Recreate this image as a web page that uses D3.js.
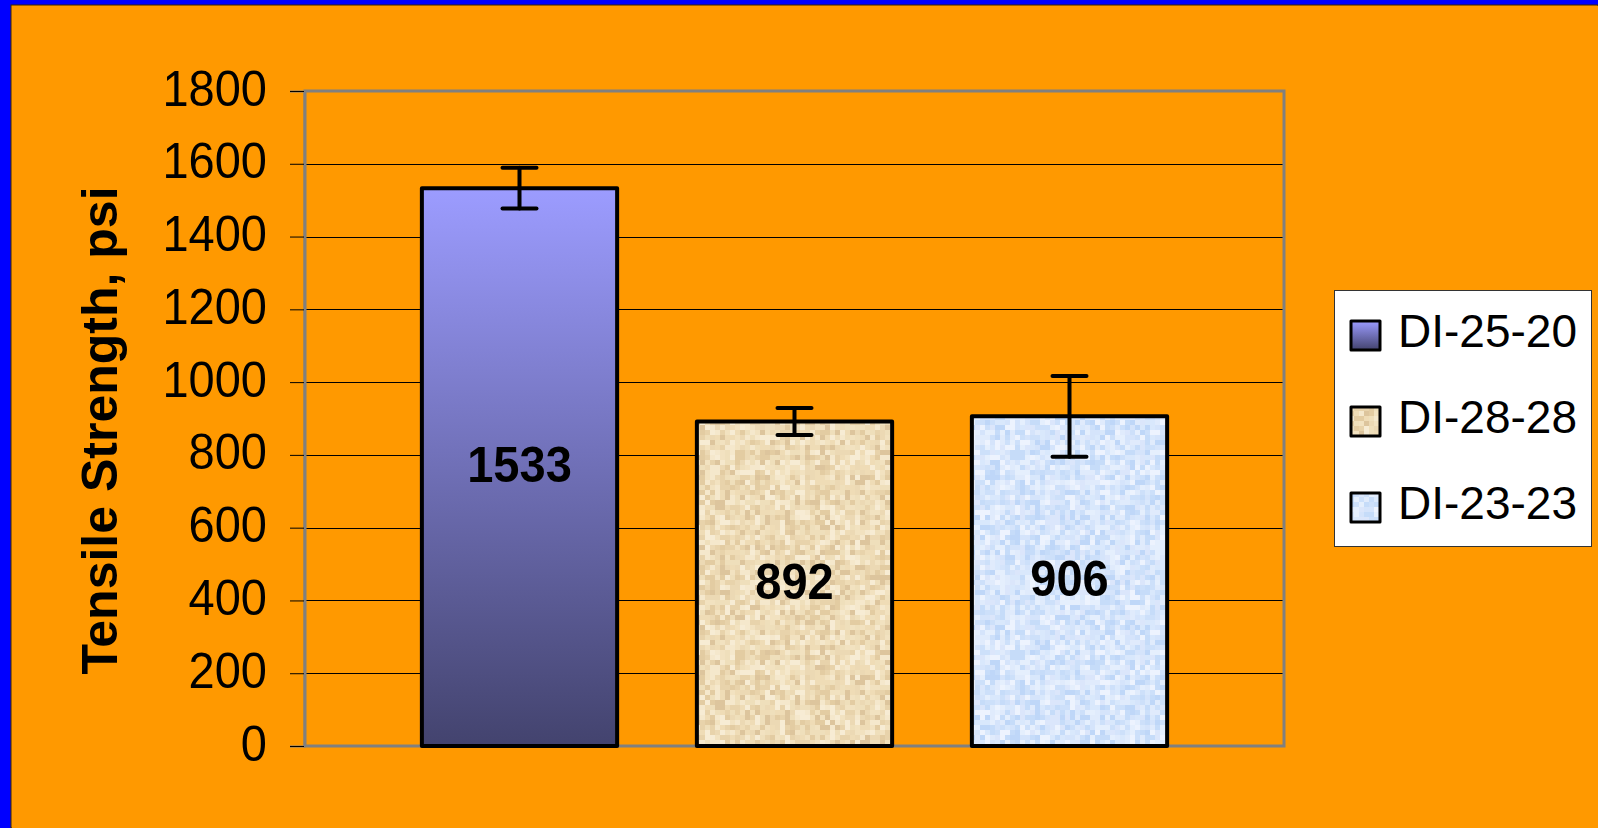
<!DOCTYPE html>
<html>
<head>
<meta charset="utf-8">
<script src="https://cdn.jsdelivr.net/npm/d3@7"></script>
<style>
  html, body { margin: 0; padding: 0; background: #0000ff; }
  svg { display: block; }
  text { font-family: "Liberation Sans", Arial, Helvetica, sans-serif; fill: #000; }
</style>
</head>
<body>
<svg id="chart" width="1598" height="828"></svg>
<script>
// Tensile strength of three mixes, with error bars (± one deviation)
const series = ["DI-25-20", "DI-28-28", "DI-23-23"];
const strength = [1533, 892, 906];
const errPlus = [56, 37, 111];
const errMinus = [56, 37, 111];
const yTicks = [0, 200, 400, 600, 800, 1000, 1200, 1400, 1600, 1800];
const yTitle = "Tensile Strength, psi";

const W = 1598, H = 828;
const plot = { left: 305, right: 1284, top: 91, bottom: 746 };
const stretch = 1.08; // slightly tall numerals

const svg = d3.select("#chart");
const defs = svg.append("defs");

// Page frame: blue margin on the left and top, orange sheet
svg.append("rect").attr("x", 0).attr("y", 0).attr("width", W).attr("height", H).attr("fill", "#0000ff");
svg.append("rect").attr("x", 11).attr("y", 5).attr("width", W - 11).attr("height", H - 5)
  .attr("fill", "#ff9900").attr("stroke", "#3a2600").attr("stroke-width", 1);
svg.append("rect").attr("x", 12).attr("y", 6).attr("width", W - 12).attr("height", H - 6).attr("fill", "#ff9900");

// Fills: a vertical gradient and two speckled paper textures
const grad = defs.append("linearGradient").attr("id", "fill0")
  .attr("x1", 0).attr("y1", 0).attr("x2", 0).attr("y2", 1);
grad.append("stop").attr("offset", "0%").attr("stop-color", "#9c9cff");
grad.append("stop").attr("offset", "100%").attr("stop-color", "#43436e");

// integer hash used to scatter the texture cells
function cellHash(i, j, salt) {
  let h = (i * 374761393 + j * 668265263 + salt * 2246822519) | 0;
  h = Math.imul(h ^ (h >>> 13), 1274126177);
  h = h ^ (h >>> 16);
  return (h >>> 0);
}
function speckle(id, palette, cell, n, salt) {
  const p = defs.append("pattern").attr("id", id)
    .attr("patternUnits", "userSpaceOnUse")
    .attr("width", cell * n).attr("height", cell * n);
  p.append("rect").attr("width", cell * n).attr("height", cell * n).attr("fill", palette[0]);
  for (let i = 0; i < n; i++) {
    for (let j = 0; j < n; j++) {
      const k = cellHash(i, j, salt) % palette.length;
      if (k === 0) continue;
      p.append("rect").attr("x", i * cell).attr("y", j * cell)
        .attr("width", cell).attr("height", cell).attr("fill", palette[k]);
    }
  }
}
speckle("fill1", ["#efdfbb", "#e8d3ab", "#e3cca2", "#f5e8cc", "#ecd9b4", "#ddc59d", "#f7ecd4", "#efdcb6", "#f2e2c0"], 5, 40, 1);
speckle("fill2", ["#d9e8fc", "#cde0fa", "#e5effd", "#c6dcf9", "#d5e4fb", "#edf3fe", "#bfd7f8", "#e0ebfc", "#dbe6fb"], 5, 40, 2);
const fills = ["url(#fill0)", "url(#fill1)", "url(#fill2)"];

// Scales
const y = d3.scaleLinear().domain([0, 1800]).range([plot.bottom, plot.top]);
const x = d3.scaleBand().domain(series).range([plot.left, plot.right])
  .paddingInner(0.29).paddingOuter(0.425);

// Horizontal gridlines
svg.append("g").selectAll("line").data(yTicks.filter(d => d > 0)).join("line")
  .attr("x1", plot.left).attr("x2", plot.right)
  .attr("y1", d => Math.round(y(d)) + 0.5).attr("y2", d => Math.round(y(d)) + 0.5)
  .attr("stroke", "#000").attr("stroke-width", 1);

// Plot area border
svg.append("rect")
  .attr("x", plot.left).attr("y", plot.top)
  .attr("width", plot.right - plot.left).attr("height", plot.bottom - plot.top)
  .attr("fill", "none").attr("stroke", "#808080").attr("stroke-width", 3);

// Y axis: tick marks and labels
const yAxis = d3.axisLeft(y).tickValues(yTicks).tickSize(14).tickPadding(24).tickFormat(d3.format("d"));
const ag = svg.append("g").attr("transform", `translate(${plot.left - 1},0)`).call(yAxis);
ag.select(".domain").attr("stroke", "#808080").attr("stroke-width", 2);
ag.selectAll(".tick line").attr("stroke", "#000").attr("stroke-width", 1);
ag.selectAll(".tick text")
  .attr("font-size", 47).attr("font-family", "Liberation Sans, Arial, sans-serif")
  .attr("fill", "#000").attr("x", 0).attr("dy", null).attr("y", 0)
  .attr("transform", `translate(-37,14) scale(1,${stretch})`);

// Axis title
svg.append("text")
  .attr("transform", `translate(117,${(plot.top + plot.bottom) / 2 + 12}) rotate(-90)`)
  .attr("text-anchor", "middle")
  .attr("font-size", 50).attr("font-weight", "bold")
  .text(yTitle);

// Bars
svg.append("g").selectAll("rect").data(series).join("rect")
  .attr("x", d => x(d)).attr("width", x.bandwidth())
  .attr("y", (d, i) => y(strength[i]))
  .attr("height", (d, i) => y(0) - y(strength[i]))
  .attr("fill", (d, i) => fills[i])
  .attr("stroke", "#000").attr("stroke-width", 4).attr("stroke-linejoin", "round");

// Error bars
const eg = svg.append("g").attr("stroke", "#000").attr("stroke-width", 4).attr("stroke-linecap", "round");
series.forEach((s, i) => {
  const cx = x(s) + x.bandwidth() / 2;
  const hi = y(strength[i] + errPlus[i]), lo = y(strength[i] - errMinus[i]);
  eg.append("line").attr("x1", cx).attr("x2", cx).attr("y1", hi).attr("y2", lo);
  eg.append("line").attr("x1", cx - 17).attr("x2", cx + 17).attr("y1", hi).attr("y2", hi);
  eg.append("line").attr("x1", cx - 17).attr("x2", cx + 17).attr("y1", lo).attr("y2", lo);
});

// Value labels centred in each bar
svg.append("g").selectAll("text").data(series).join("text")
  .attr("transform", (d, i) =>
    `translate(${x(d) + x.bandwidth() / 2},${(y(strength[i]) + y(0)) / 2 + 15}) scale(1,${stretch})`)
  .attr("text-anchor", "middle")
  .attr("font-size", 47).attr("font-weight", "bold")
  .text((d, i) => d3.format("d")(strength[i]));

// Legend
const lg = svg.append("g").attr("transform", "translate(1334,290)");
lg.append("rect").attr("x", 0.5).attr("y", 0.5).attr("width", 257).attr("height", 256)
  .attr("fill", "#fff").attr("stroke", "#333").attr("stroke-width", 1);
const items = lg.selectAll("g.item").data(series).join("g").attr("class", "item")
  .attr("transform", (d, i) => `translate(0,${30 + i * 86})`);
items.append("rect").attr("x", 17).attr("y", 1).attr("width", 29).attr("height", 29)
  .attr("fill", (d, i) => fills[i])
  .attr("stroke", "#000").attr("stroke-width", 3).attr("stroke-linejoin", "round");
items.append("text").attr("x", 64).attr("y", 27)
  .attr("font-size", 46)
  .text(d => d);
</script>
</body>
</html>
